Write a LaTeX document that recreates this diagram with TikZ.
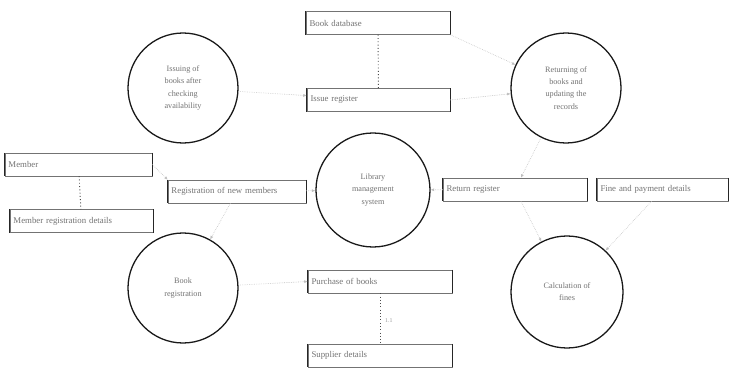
\documentclass[tikz,border=0pt]{standalone}
\usepackage{fontspec}
\setmainfont{Liberation Serif}
\usetikzlibrary{arrows.meta}
\begin{document}
\begin{tikzpicture}[x=0.03cm,y=-0.03cm,
  proc/.style={circle, draw=black!90, line width=1.1pt, minimum size=#1, inner sep=0pt,
    align=center, font=\fontsize{7}{10.5}\selectfont, text=black!55},
  store/.style={draw=black!55, line width=0.4pt, minimum height=0.69cm, inner xsep=3pt,
    inner ysep=1pt, align=left, font=\fontsize{7.5}{8.5}\selectfont, text=black!55},
  side/.style={line width=1.1pt, black!85},
  flow/.style={densely dotted, black!25, line width=0.5pt, -{Latex[length=3pt,width=2.5pt]}},
  link/.style={dotted, black!70, line width=0.8pt},
  lab/.style={font=\fontsize{5}{6}\selectfont, text=black!40, inner sep=1pt}]
\useasboundingbox[fill=white] (0,0) rectangle (729,372);

% processes
\node[proc=3.3cm]  (pissue)  at (183,88)  {Issuing of\\books after\\checking\\availability};
\node[proc=3.3cm]  (preturn) at (566,88)  {Returning of\\books and\\updating the\\records};
\node[proc=3.42cm] (pmain)   at (373,190) {Library\\management\\system};
\node[proc=3.3cm]  (preg)    at (183,288) {Book\\registration};
\node[proc=3.36cm] (pfine)   at (567,292) {Calculation of\\fines};

% data stores
\node[store, text width=4.11cm] (sbook)   at (378,23)    {Book database};
\node[store, text width=4.08cm] (sissue)  at (378.5,100) {Issue register};
\node[store, text width=4.20cm] (smember) at (78.5,164.5) {Member};
\node[store, text width=4.08cm] (smreg)   at (81.5,221)  {Member registration details};
\node[store, text width=3.93cm] (snew)    at (237,191.5) {Registration of new members};
\node[store, text width=4.11cm] (sreturn) at (515,189.5) {Return register};
\node[store, text width=3.72cm] (spay)    at (662.5,189.5) {Fine and payment details};
\node[store, text width=4.11cm] (sbuy)    at (380,281.5) {Purchase of books};
\node[store, text width=4.11cm] (ssup)    at (380,355.5) {Supplier details};

\foreach \s in {sbook,sissue,smember,smreg,snew,sreturn,spay,sbuy,ssup}{
  \draw[side] (\s.north west) -- (\s.south west);
  \draw[side] (\s.north east) -- (\s.south east);
}

% links between stores
\draw[link] (sbook) -- (sissue);
\draw[link] (smember) -- (smreg);
\draw[link] (sbuy) -- (ssup) node[lab, pos=0.55, right=3pt] {1.1};

% faint flows
\draw[flow] (pissue) -- (sissue);
\draw[flow] (sbook.south east) -- (preturn);
\draw[flow] (sissue.east) -- (preturn);
\draw[flow] (preturn) -- (sreturn);
\draw[flow] (sreturn) -- (pfine);
\draw[flow] (spay) -- (pfine);
\draw[flow] (smember.east) -- (snew.north west);
\draw[flow] (snew) -- (preg);
\draw[flow] (preg) -- (sbuy.west);
\draw[flow] (snew) -- (pmain);
\draw[flow] (sreturn) -- (pmain);
\end{tikzpicture}
\end{document}
